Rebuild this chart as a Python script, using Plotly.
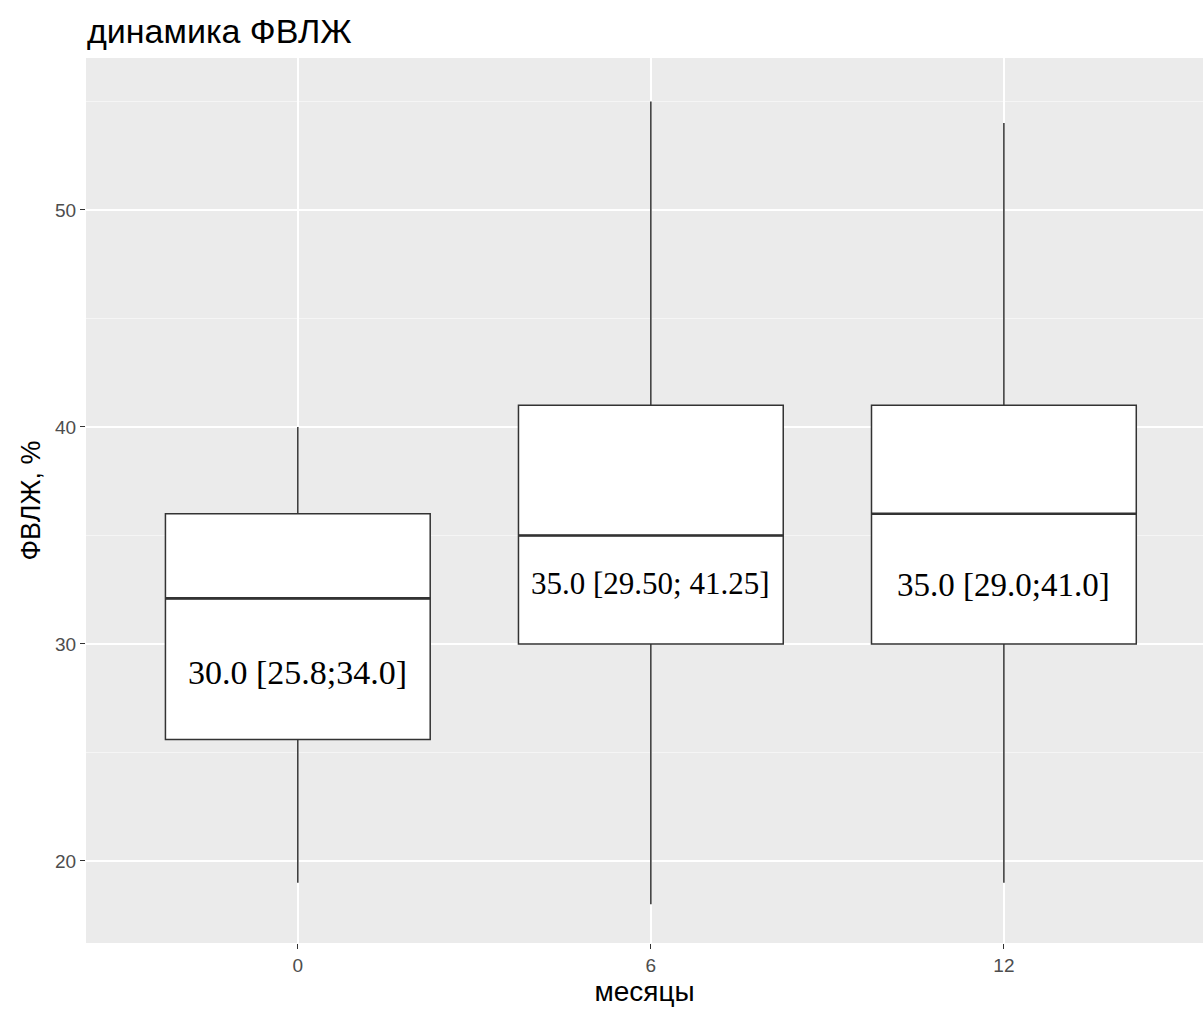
import plotly.graph_objects as go

# ---- data ----
months = ["0", "6", "12"]
lower_whisker = [19.0, 18.0, 19.0]
q1_vals = [25.6, 30.0, 30.0]
median_vals = [32.1, 35.0, 36.0]
q3_vals = [36.0, 41.0, 41.0]
upper_whisker = [40.0, 55.0, 54.0]
label_texts = ["30.0 [25.8;34.0]", "35.0 [29.50; 41.25]", "35.0 [29.0;41.0]"]
label_y = [28.7, 32.8, 32.7]
y_ticks = [20, 30, 40, 50]

# ---- styling ----
label_sizes = [34, 31, 33]
BOX_W = 0.75
LINE = "#333333"

fig = go.Figure()
fig.add_trace(go.Box(
    x=months,
    q1=q1_vals,
    median=median_vals,
    q3=q3_vals,
    lowerfence=lower_whisker,
    upperfence=upper_whisker,
    width=BOX_W,
    whiskerwidth=0,
    fillcolor="white",
    line=dict(color=LINE, width=1.5),
    boxpoints=False,
    showlegend=False,
    hoverinfo="skip",
))

# thicker median lines (ggplot style)
shapes = []
for i, m in enumerate(median_vals):
    shapes.append(dict(type="line", xref="x", yref="y",
                       x0=i - BOX_W / 2, x1=i + BOX_W / 2, y0=m, y1=m,
                       line=dict(color=LINE, width=2.6)))

annotations = []
for i, (t, yy) in enumerate(zip(label_texts, label_y)):
    annotations.append(dict(x=i, y=yy, xref="x", yref="y", text=t,
                            showarrow=False,
                            font=dict(family="Liberation Serif, Times New Roman, serif",
                                      size=label_sizes[i], color="black")))

fig.update_layout(
    width=1203, height=1017,
    margin=dict(l=86, r=0, t=58, b=74),
    paper_bgcolor="white",
    plot_bgcolor="#EBEBEB",
    font=dict(family="Liberation Sans, Arial, sans-serif"),
    title=dict(text="динамика ФВЛЖ", x=87 / 1203, xanchor="left",
               y=1 - 31 / 1017, yanchor="middle", yref="container",
               font=dict(size=34, color="black")),
    shapes=shapes,
    annotations=annotations,
    xaxis=dict(
        type="category",
        categoryorder="array", categoryarray=months,
        range=[-0.6, 2.564],
        showgrid=True, gridcolor="white", gridwidth=1.5,
        zeroline=False, showline=False,
        ticks="outside", ticklen=5, tickcolor=LINE, tickwidth=1,
        tickfont=dict(size=19, color="#4D4D4D"),
        title=dict(text="месяцы", font=dict(size=28, color="black"), standoff=2),
    ),
    yaxis=dict(
        range=[16.22, 57.0],
        tickvals=y_ticks,
        showgrid=True, gridcolor="white", gridwidth=1.5,
        minor=dict(dtick=5, tick0=0, showgrid=True, gridcolor="#F5F5F5", gridwidth=1),
        zeroline=False, showline=False,
        ticks="outside", ticklen=5, tickcolor=LINE, tickwidth=1,
        tickfont=dict(size=19, color="#4D4D4D"),
        title=dict(text="ФВЛЖ, %", font=dict(size=27, color="black"), standoff=6),
    ),
)

fig.write_html("out.html")
